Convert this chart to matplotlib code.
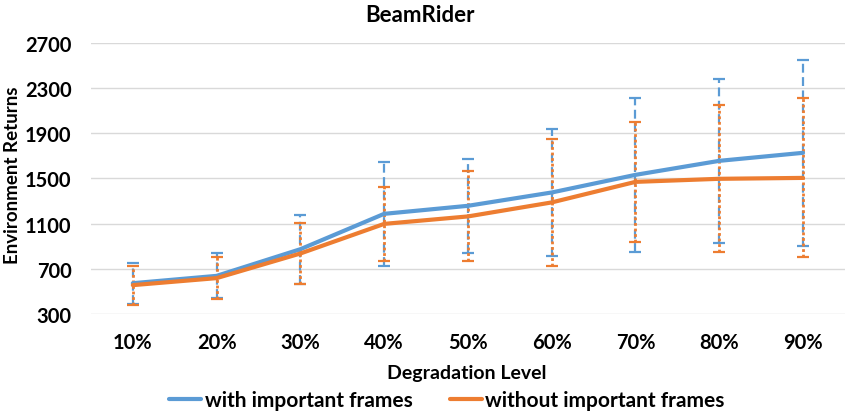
import numpy as np
import matplotlib
matplotlib.use("Agg")
import matplotlib.pyplot as plt

#---------------------DATA------------------------
levels = ['10%', '20%', '30%', '40%', '50%', '60%', '70%', '80%', '90%']
with_mean = [573, 638, 874, 1187, 1258, 1376, 1532, 1656, 1727]
with_err = [181, 199, 305, 460, 418, 560, 680, 726, 823]
without_mean = [556, 618, 836, 1098, 1164, 1288, 1470, 1497, 1505]
without_err = [172, 189, 268, 327, 398, 560, 532, 652, 703]
yticks = [300, 700, 1100, 1500, 1900, 2300, 2700]

blue = '#5B9BD5'
orange = '#ED7D31'

#---------------------FONT------------------------
matplotlib.rc('font', family=['Lato', 'DejaVu Sans'], weight='bold', size=14)

#------------Figure Layout--------------
fig = plt.figure(figsize=(8.5, 4.14), dpi=100)
ax = fig.add_subplot(111)
fig.subplots_adjust(left=0.107, right=0.994, top=0.894, bottom=0.239)

x = np.arange(len(levels))

# error bars: dashed blue, dotted orange
eb1 = ax.errorbar(x, with_mean, yerr=with_err, fmt='none', ecolor=blue,
                  elinewidth=1.6, capsize=4.5, capthick=1.6, zorder=2)
eb1[2][0].set_linestyle((0, (4, 2)))
eb2 = ax.errorbar(x, without_mean, yerr=without_err, fmt='none', ecolor=orange,
                  elinewidth=2.0, capsize=4.5, capthick=1.6, zorder=3)
eb2[2][0].set_linestyle((0, (1, 1)))

#PLOT
ax.plot(x, with_mean, color=blue, linewidth=3.0, label='with important frames',
        zorder=4, solid_capstyle='round')
ax.plot(x, without_mean, color=orange, linewidth=3.0, label='without important frames',
        zorder=5, solid_capstyle='round')

ax.set_xlim(-0.5, len(levels) - 0.5)
ax.set_ylim(300, 2700)
ax.set_yticks(yticks)
ax.set_xticks(x)
ax.set_xticklabels(levels)
ax.tick_params(length=0, labelsize=14.5)
ax.tick_params(axis='x', pad=13)
ax.tick_params(axis='y', pad=14)
ax.grid(axis='y', color='#D9D9D9', linewidth=1)
ax.set_axisbelow(True)
for s in ax.spines.values():
    s.set_visible(False)

fig.text(420 / 850, 1 - 15 / 414, 'BeamRider', fontsize=16, fontweight='bold',
         ha='center', va='center')
ax.set_xlabel('Degradation Level', fontsize=14, fontweight='bold', va='center')
ax.xaxis.set_label_coords(0.498, -0.214)
ax.set_ylabel('Environment Returns', fontsize=13.5, fontweight='bold', va='center')
ax.yaxis.set_label_coords(-0.104, 0.517)

ax.legend(loc='center', bbox_to_anchor=(0.472, -0.317), ncol=2, frameon=False,
          handlelength=1.55, handletextpad=0.15, columnspacing=1.8, fontsize=15)

fig.savefig('out.png', dpi=100)
